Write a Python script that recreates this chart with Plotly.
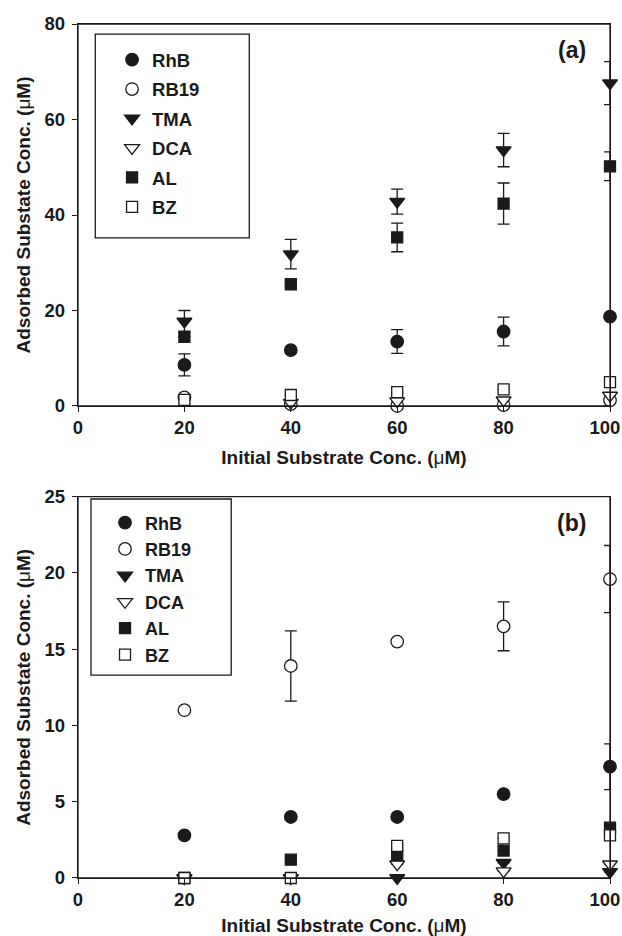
import plotly.graph_objects as go

# ---------------- data ----------------
x_conc = [20, 40, 60, 80, 100]
series_names = ["RhB", "RB19", "TMA", "DCA", "AL", "BZ"]

# panel (a)
rhb_a = [8.6, 11.7, 13.5, 15.6, 18.7]
rhb_a_err = [2.3, 0, 2.5, 3.0, 0]
rb19_a = [1.8, 0.4, 0.0, 0.2, 1.2]
rb19_a_err = [0, 0, 0, 0, 0]
tma_a = [17.7, 31.8, 42.8, 53.6, 67.6]
tma_a_err = [2.3, 3.1, 2.6, 3.5, 4.5]
dca_a = [-0.2, 0.7, 1.0, 1.2, 2.2]
dca_a_err = [0, 0, 0, 0, 0]
al_a = [14.5, 25.5, 35.3, 42.4, 50.2]
al_a_err = [0, 0, 3.0, 4.3, 3.0]
bz_a = [1.3, 2.3, 2.9, 3.5, 5.0]
bz_a_err = [0, 0, 0, 0, 0]

# panel (b)
rhb_b = [2.8, 4.0, 4.0, 5.5, 7.3]
rhb_b_err = [0, 0, 0, 0, 1.5]
rb19_b = [11.0, 13.9, 15.5, 16.5, 19.6]
rb19_b_err = [0, 2.3, 0, 1.6, 2.2]
tma_b = [0.0, 0.0, 0.0, 1.0, 0.4]
tma_b_err = [0, 0, 0, 0, 0]
dca_b = [0.0, 0.0, 0.9, 0.45, 0.9]
dca_b_err = [0, 0, 0, 0, 0]
al_b = [0.0, 1.2, 1.5, 1.8, 3.3]
al_b_err = [0, 0, 0, 0, 0]
bz_b = [0.0, 0.0, 2.1, 2.6, 2.8]
bz_b_err = [0, 0, 0, 0, 0]

x_ticks = [0, 20, 40, 60, 80, 100]
# last label padded with two no-break spaces so it sits inside the page like the original
x_tick_labels = ["0", "20", "40", "60", "80", "100\u00a0\u00a0"]
y_ticks_a = [0, 20, 40, 60, 80]
y_ticks_b = [0, 5, 10, 15, 20, 25]

panel_a = [rhb_a, rb19_a, tma_a, dca_a, al_a, bz_a]
panel_a_err = [rhb_a_err, rb19_a_err, tma_a_err, dca_a_err, al_a_err, bz_a_err]
panel_b = [rhb_b, rb19_b, tma_b, dca_b, al_b, bz_b]
panel_b_err = [rhb_b_err, rb19_b_err, tma_b_err, dca_b_err, al_b_err, bz_b_err]

# ---------------- styles ----------------
INK = "#1a1a1a"
FONT = "Liberation Sans, Arial, sans-serif"
styles = {
    "RhB": dict(symbol="circle", color=INK, size=12.5),
    "RB19": dict(symbol="circle", color="white", size=12.5),
    "TMA": dict(symbol="triangle-down", color=INK, size=13),
    "DCA": dict(symbol="triangle-down", color="white", size=13),
    "AL": dict(symbol="square", color=INK, size=11),
    "BZ": dict(symbol="square", color="white", size=11),
}

fig = go.Figure()

def add_panel(values, errors, xa, ya, legend):
    for name, yv, ev in zip(series_names, values, errors):
        st = styles[name]
        fig.add_trace(go.Scatter(
            x=x_conc, y=yv, mode="markers", name=name,
            xaxis=xa, yaxis=ya, legend=legend,
            legendgroup=name + legend,
            cliponaxis=False,
            marker=dict(symbol=st["symbol"], size=st["size"], color=st["color"],
                        line=dict(color=INK, width=1.3)),
            error_y=dict(type="data", array=ev, visible=True, color=INK,
                         thickness=1.3, width=6),
        ))

add_panel(panel_a, panel_a_err, "x", "y", "legend")
add_panel(panel_b, panel_b_err, "x2", "y2", "legend2")

tick_font = dict(family=FONT, size=18.5, color=INK, weight="bold")
title_font = dict(family=FONT, size=19, color=INK, weight="bold")
MU = "<span style='font-weight:normal'>μ</span>"

def xaxis_cfg(anchor):
    return dict(
        range=[0, 100], tickvals=x_ticks, ticktext=x_tick_labels,
        anchor=anchor, domain=[0, 1],
        ticks="outside", ticklen=5, tickwidth=1.3, tickcolor=INK,
        showline=True, linecolor=INK, linewidth=1.3, mirror=True,
        showgrid=False, zeroline=False, tickfont=tick_font,
        ticklabeloverflow="allow", automargin=False,
        title=dict(text=f"Initial Substrate Conc. ({MU}M)",
                   font=title_font, standoff=13),
    )

def yaxis_cfg(anchor, rng, ticks, domain):
    return dict(
        range=rng, tickvals=ticks, anchor=anchor, domain=domain,
        ticks="outside", ticklen=5, tickwidth=1.3, tickcolor=INK,
        showline=True, linecolor=INK, linewidth=1.3, mirror=True,
        showgrid=False, zeroline=False, tickfont=tick_font,
        ticklabelstandoff=3, ticklabeloverflow="allow", automargin=False,
        title=dict(text=f"Adsorbed Substate Conc. ({MU}M)",
                   font=title_font, standoff=8),
    )

legend_common = dict(
    xanchor="left", yanchor="top", bgcolor="rgba(0,0,0,0)", borderwidth=0,
)

frame_line = dict(color=INK, width=1.3)

fig.update_layout(
    width=622, height=936,
    margin=dict(l=78, r=12, t=24, b=58, autoexpand=False),
    paper_bgcolor="white", plot_bgcolor="white",
    xaxis=xaxis_cfg("y"),
    yaxis=yaxis_cfg("x", [0, 80], y_ticks_a, [0.5527, 1.0]),
    xaxis2=xaxis_cfg("y2"),
    yaxis2=yaxis_cfg("x2", [0, 25], y_ticks_b, [0.0, 0.4465]),
    legend=dict(x=0.064, y=0.980, tracegroupgap=2.4,
                font=dict(family=FONT, size=18.5, color=INK, weight="bold"),
                **legend_common),
    legend2=dict(x=0.0508, y=0.4375, tracegroupgap=0,
                 font=dict(family=FONT, size=18, color=INK, weight="bold"),
                 **legend_common),
    showlegend=True,
    shapes=[
        # plot frames
        dict(type="rect", xref="x domain", yref="y domain", x0=0, x1=1, y0=0, y1=1,
             line=frame_line, fillcolor="rgba(0,0,0,0)", layer="above"),
        dict(type="rect", xref="x2 domain", yref="y2 domain", x0=0, x1=1, y0=0, y1=1,
             line=frame_line, fillcolor="rgba(0,0,0,0)", layer="above"),
        # legend boxes
        dict(type="rect", xref="x", yref="y", x0=3.25, x1=32.2, y0=35.2, y1=77.9,
             line=frame_line, fillcolor="rgba(0,0,0,0)", layer="above"),
        dict(type="rect", xref="x2", yref="y2", x0=2.44, x1=28.8, y0=13.3, y1=24.85,
             line=frame_line, fillcolor="rgba(0,0,0,0)", layer="above"),
    ],
    annotations=[
        dict(text="(a)", xref="x", yref="y", x=92.8, y=74.6, showarrow=False,
             font=dict(family=FONT, size=23, color=INK, weight="bold")),
        dict(text="(b)", xref="x2", yref="y2", x=92.8, y=23.3, showarrow=False,
             font=dict(family=FONT, size=23, color=INK, weight="bold")),
    ],
)

fig.write_html(
    "out.html", config={"displayModeBar": False},
    post_script=(
        "document.documentElement.style.margin='0px';"
        "document.documentElement.style.overflow='hidden';"
        "document.body.style.margin='0px';"
        "document.body.style.overflow='hidden';"
    ),
)
